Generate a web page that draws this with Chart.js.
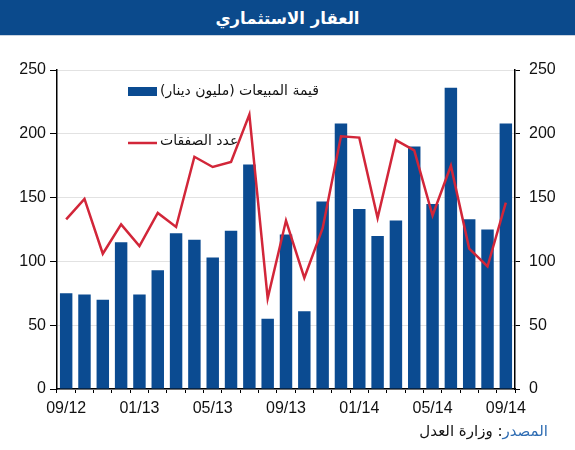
<!DOCTYPE html>
<html>
<head>
<meta charset="utf-8">
<script src="https://cdn.jsdelivr.net/npm/chart.js@4.4.1/dist/chart.umd.min.js"></script>
<style>
	body { margin: 0; background: #fff; font-family: Arial, "Liberation Sans", "DejaVu Sans", sans-serif; }
	#wrap { position: relative; width: 575px; height: 450px; overflow: hidden; }
	#title { position: absolute; left: 0; top: 0; width: 575px; height: 35px; background: #0b4a8c; color: #fff;
		font: bold 16.5px "DejaVu Sans", Arial, sans-serif; text-align: center; line-height: 37px; border-bottom: 1px solid #c9d3e0; }
	#src { position: absolute; right: 27px; top: 422px; font: 15px "DejaVu Sans", Arial, sans-serif; color: #111; direction: rtl; }
	#src span { color: #2f6db3; }
	canvas { position: absolute; left: 0; top: 0; }
</style>
</head>
<body>
<div id="wrap">
	<canvas id="c" width="575" height="450"></canvas>
	<div id="title">العقار الاستثماري</div>
	<div id="src"><span>المصدر</span>: وزارة العدل</div>
</div>
<script>
const months = ['09/12', '10/12', '11/12', '12/12', '01/13', '02/13', '03/13', '04/13', '05/13', '06/13', '07/13', '08/13',
	'09/13', '10/13', '11/13', '12/13', '01/14', '02/14', '03/14', '04/14', '05/14', '06/14', '07/14', '08/14', '09/14'];
const salesValue = [75, 74, 70, 115, 74, 93, 122, 117, 103, 124, 176, 55,
	121, 61, 147, 208, 141, 120, 132, 190, 145, 236, 133, 125, 208];
const dealsCount = [133, 149, 106, 129, 112, 138, 127, 182, 174, 178, 215, 71,
	132, 87, 126, 198, 197, 134, 195, 187, 136, 175, 110, 96, 146];
const yTicks = [0, 50, 100, 150, 200, 250];
const salesLabel = 'قيمة المبيعات (مليون دينار)';
const dealsLabel = 'عدد الصفقات';

const BLUE = '#0b4b91';
const RED = '#d22639';

// legend drawn inside the plot, like the original
const insideLegend = {
	id: 'insideLegend',
	afterDraw(chart) {
		const ctx = chart.ctx;
		ctx.save();
		ctx.fillStyle = BLUE;
		ctx.fillRect(128, 87, 29, 9);
		ctx.strokeStyle = RED;
		ctx.lineWidth = 2.5;
		ctx.beginPath();
		ctx.moveTo(128, 143);
		ctx.lineTo(157, 143);
		ctx.stroke();
		ctx.fillStyle = '#111';
		ctx.font = '14px "DejaVu Sans", Arial, sans-serif';
		ctx.textBaseline = 'middle';
		ctx.direction = 'rtl';
		ctx.textAlign = 'left';
		ctx.fillText(salesLabel, 160, 91);
		ctx.fillText(dealsLabel, 160, 141);
		ctx.restore();
	}
};

new Chart(document.getElementById('c'), {
	data: {
		labels: months,
		datasets: [
			{ type: 'line', label: dealsLabel, data: dealsCount, borderColor: RED, borderWidth: 2.5,
				pointRadius: 0, tension: 0, yAxisID: 'y', order: 0 },
			{ type: 'bar', label: salesLabel, data: salesValue, backgroundColor: BLUE,
				barPercentage: 0.68, categoryPercentage: 1, yAxisID: 'y', order: 1 }
		]
	},
	options: {
		responsive: false,
		animation: false,
		layout: { padding: { top: 70, bottom: 31, left: 0, right: 0 } },
		plugins: { legend: { display: false }, tooltip: { enabled: false } },
		scales: {
			x: {
				offset: true,
				grid: { offset: true, drawOnChartArea: false, tickLength: 4, color: '#000', tickColor: '#000' },
				border: { color: '#000', width: 1.5 },
				ticks: {
					autoSkip: false, maxRotation: 0, padding: 6, color: '#111',
					font: { size: 16, family: 'Arial, "Liberation Sans", sans-serif' },
					callback: (v, i) => (i % 4 === 0 ? months[i] : '')
				},
				afterFit: s => { s.height = 30; }
			},
			y: {
				position: 'left', min: 0, max: 250,
				afterBuildTicks: s => { s.ticks = yTicks.map(v => ({ value: v })); },
				grid: { color: '#e2e2e2', tickColor: '#000', tickLength: 7, lineWidth: 1 },
				border: { color: '#000', width: 1.5 },
				ticks: { padding: 4, color: '#111', font: { size: 16, family: 'Arial, "Liberation Sans", sans-serif' } },
				afterFit: s => { s.width = 57; }
			},
			y2: {
				position: 'right', min: 0, max: 250,
				afterBuildTicks: s => { s.ticks = yTicks.map(v => ({ value: v })); },
				grid: { drawOnChartArea: false, tickColor: '#000', tickLength: 5 },
				border: { color: '#000', width: 1.5 },
				ticks: { padding: 9, color: '#111', font: { size: 16, family: 'Arial, "Liberation Sans", sans-serif' } },
				afterFit: s => { s.width = 60; }
			}
		}
	},
	plugins: [insideLegend]
});
</script>
</body>
</html>
